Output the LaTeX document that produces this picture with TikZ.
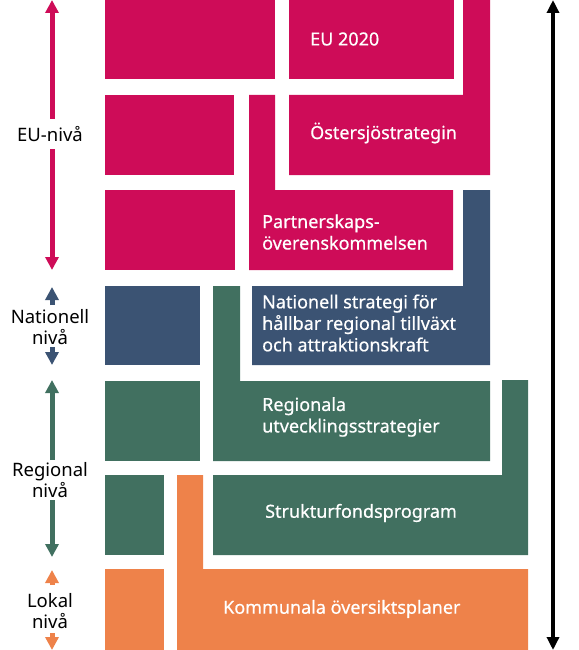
\documentclass[tikz,border=0pt]{standalone}
\usepackage{fontspec}
\setmainfont{Noto Sans}
\newfontfamily\semib{Noto Sans}[FakeBold=0.6]
\usetikzlibrary{arrows.meta}
\definecolor{eum}{RGB}{206,12,88}
\definecolor{natb}{RGB}{59,83,115}
\definecolor{regg}{RGB}{65,112,96}
\definecolor{loko}{RGB}{238,130,74}
\tikzset{
  blocktext/.style={text=white,font=\semib\fontsize{18}{21.5}\selectfont,anchor=west,align=left,inner sep=0pt},
  lvltext/.style={text=black,font=\fontsize{18.5}{20.5}\selectfont,align=center,inner sep=0pt},
  lvlarrow/.style={line width=5pt,-{Triangle[width=13pt,length=13pt]}},
  bigarrow/.style={line width=4pt,{Triangle[width=12pt,length=13pt]}-{Triangle[width=12pt,length=13pt]}}
}
\begin{document}
\begin{tikzpicture}[x=1pt,y=-1pt]
\useasboundingbox (0,0) rectangle (578,650);
% EU level blocks
\fill[eum] (105,0) rectangle (275,79);
\fill[eum] (289,0) rectangle (454,79);
\fill[eum] (105,95) rectangle (234,175);
\fill[eum] (105,190) rectangle (235,270);
\fill[eum] (463,0) -- (490,0) -- (490,175) -- (289,175) -- (289,95) -- (463,95) -- cycle;
\fill[eum] (249,95) -- (275,95) -- (275,190) -- (453,190) -- (453,270) -- (249,270) -- cycle;
% National
\fill[natb] (105,286) rectangle (200,365);
\fill[natb] (463,190) -- (490,190) -- (490,365) -- (252,365) -- (252,286) -- (463,286) -- cycle;
% Regional
\fill[regg] (105,381) rectangle (200,461);
\fill[regg] (105,475) rectangle (164,555);
\fill[regg] (213,286) -- (240,286) -- (240,381) -- (490,381) -- (490,461) -- (213,461) -- cycle;
\fill[regg] (502,380) -- (528,380) -- (528,555) -- (213,555) -- (213,475) -- (502,475) -- cycle;
% Local
\fill[loko] (105,569) rectangle (164,650);
\fill[loko] (177,475) -- (203,475) -- (203,569) -- (528,569) -- (528,650) -- (177,650) -- cycle;
% texts
\node[blocktext] (eu2020) at (310,39) {EU 2020};
\node[blocktext] (oster) at (310,133) {Östersjöstrategin};
\node[blocktext] (partner) at (262,232) {Partnerskaps-\\överenskommelsen};
\node[blocktext] (nat) at (262,323) {Nationell strategi för\\hållbar regional tillväxt\\och attraktionskraft};
\node[blocktext] (rus) at (262,417) {Regionala\\utvecklingsstrategier};
\node[blocktext] (struk) at (265,513) {Strukturfondsprogram};
\node[blocktext] (komm) at (223,609) {Kommunala översiktsplaner};
% level labels
\node[lvltext] (eul) at (50,134) {EU-nivå};
\node[lvltext] (natl) at (50,327) {Nationell\\nivå};
\node[lvltext] (regl) at (50,480) {Regional\\nivå};
\node[lvltext] (lokl) at (50,611) {Lokal\\nivå};
% arrow coordinates
\coordinate (eua) at (52,119); \coordinate (eut) at (52,0);
\coordinate (eub) at (52,149); \coordinate (eubt) at (52,270);
\coordinate (nata) at (52,305); \coordinate (natt) at (52,287);
\coordinate (natb) at (52,347); \coordinate (natbt) at (52,365);
\coordinate (rega) at (52,460); \coordinate (regt) at (52,380);
\coordinate (regb) at (52,500); \coordinate (regbt) at (52,557);
\coordinate (loka) at (52,585); \coordinate (lokt) at (52,570);
\coordinate (lokb) at (52,633); \coordinate (lokbt) at (52,650);
\draw[lvlarrow,eum] (eua) -- (eut);
\draw[lvlarrow,eum] (eub) -- (eubt);
\draw[lvlarrow,natb] (nata) -- (natt);
\draw[lvlarrow,natb] (natb) -- (natbt);
\draw[lvlarrow,regg] (rega) -- (regt);
\draw[lvlarrow,regg] (regb) -- (regbt);
\draw[lvlarrow,loko] (loka) -- (lokt);
\draw[lvlarrow,loko] (lokb) -- (lokbt);
% right arrow
\coordinate (rtop) at (553,0); \coordinate (rbot) at (553,650);
\draw[bigarrow,black] (rtop) -- (rbot);
\end{tikzpicture}
\end{document}
